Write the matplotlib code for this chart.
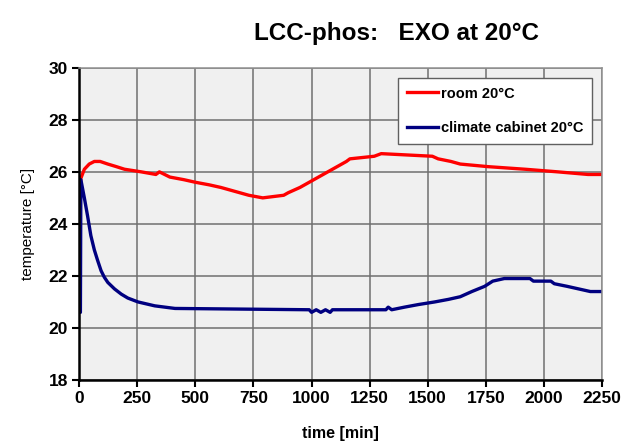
import matplotlib.pyplot as plt

# room 20°C (red)
room_time = [0, 7, 22, 43, 65, 90, 123, 160, 195, 267, 330, 345, 390, 450, 500,
             560, 610, 650, 690, 730, 790, 880, 900, 925, 950, 970, 990, 1010,
             1030, 1050, 1070, 1090, 1110, 1130, 1150, 1165, 1270, 1300, 1520,
             1545, 1600, 1640, 1760, 1920, 2060, 2190, 2250]
room_temp = [24.8, 25.75, 26.1, 26.3, 26.4, 26.4, 26.3, 26.2, 26.1, 26.0, 25.9, 26.0,
             25.8, 25.7, 25.6, 25.5, 25.4, 25.3, 25.2, 25.1, 25.0, 25.1, 25.2, 25.3,
             25.4, 25.5, 25.6, 25.7, 25.8, 25.9, 26.0, 26.1, 26.2, 26.3, 26.4, 26.5,
             26.6, 26.7, 26.6, 26.5, 26.4, 26.3, 26.2, 26.1, 26.0, 25.9, 25.9]

# climate cabinet 20°C (blue)
cab_time = [0, 5, 7, 22, 36, 50, 65, 79, 94, 108, 123, 152, 181, 209, 253, 325,
            412, 990, 1000, 1020, 1040, 1060, 1080, 1090, 1320, 1330,
            1345, 1400, 1460, 1530, 1590, 1640, 1690, 1745, 1780, 1830, 1940,
            1955, 2030, 2045, 2100, 2150, 2200, 2250]
cab_temp = [20.6, 20.6, 25.7, 25.0, 24.3, 23.55, 23.0, 22.6, 22.2, 21.95, 21.75, 21.5,
            21.3, 21.15, 21.0, 20.85, 20.75, 20.7, 20.6, 20.7, 20.6, 20.7,
            20.6, 20.7, 20.7, 20.8, 20.7, 20.8, 20.9, 21.0, 21.1, 21.2, 21.4, 21.6,
            21.8, 21.9, 21.9, 21.8, 21.8, 21.7, 21.6, 21.5, 21.4, 21.4]

plt.rcParams['font.family'] = ['Liberation Sans', 'DejaVu Sans']
plt.rcParams['font.weight'] = 'bold'

fig = plt.figure(figsize=(6.39, 4.46), dpi=100)
ax = fig.add_axes([0.124, 0.148, 0.818, 0.700])
ax.set_facecolor('#f0f0f0')

ax.plot(room_time, room_temp, color='#ff0000', lw=2.4, label='room 20°C')
ax.plot(cab_time, cab_temp, color='#000080', lw=2.4, label='climate cabinet 20°C')

ax.set_xlim(0, 2250)
ax.set_ylim(18, 30)
ax.set_xticks(range(0, 2251, 250))
ax.set_yticks(range(18, 31, 2))
ax.grid(True, color='#707070', lw=1.1)
ax.set_axisbelow(True)

for s in ['top', 'right']:
    ax.spines[s].set_color('#909090')
    ax.spines[s].set_linewidth(1.1)
for s in ['left', 'bottom']:
    ax.spines[s].set_color('black')
    ax.spines[s].set_linewidth(1.8)
ax.tick_params(direction='out', length=5, width=1.5, labelsize=12.5, pad=3)

ax.set_xlabel('time [min]', fontsize=11.5, fontweight='bold', labelpad=14)
ax.set_ylabel('temperature [°C]', fontsize=11, fontweight='normal', labelpad=10)
fig.text(0.62, 0.925, 'LCC-phos:   EXO at 20°C', fontsize=17.5, fontweight='bold',
         ha='center', va='center')

leg = ax.legend(loc='upper right', bbox_to_anchor=(0.981, 0.968), fontsize=10.5,
                frameon=True, fancybox=False, edgecolor='#606060', framealpha=1,
                handlelength=2.1, handletextpad=0.2, labelspacing=1.4,
                borderpad=0.6, borderaxespad=0)
leg.get_frame().set_linewidth(1.0)

fig.savefig('out.png', dpi=100)
